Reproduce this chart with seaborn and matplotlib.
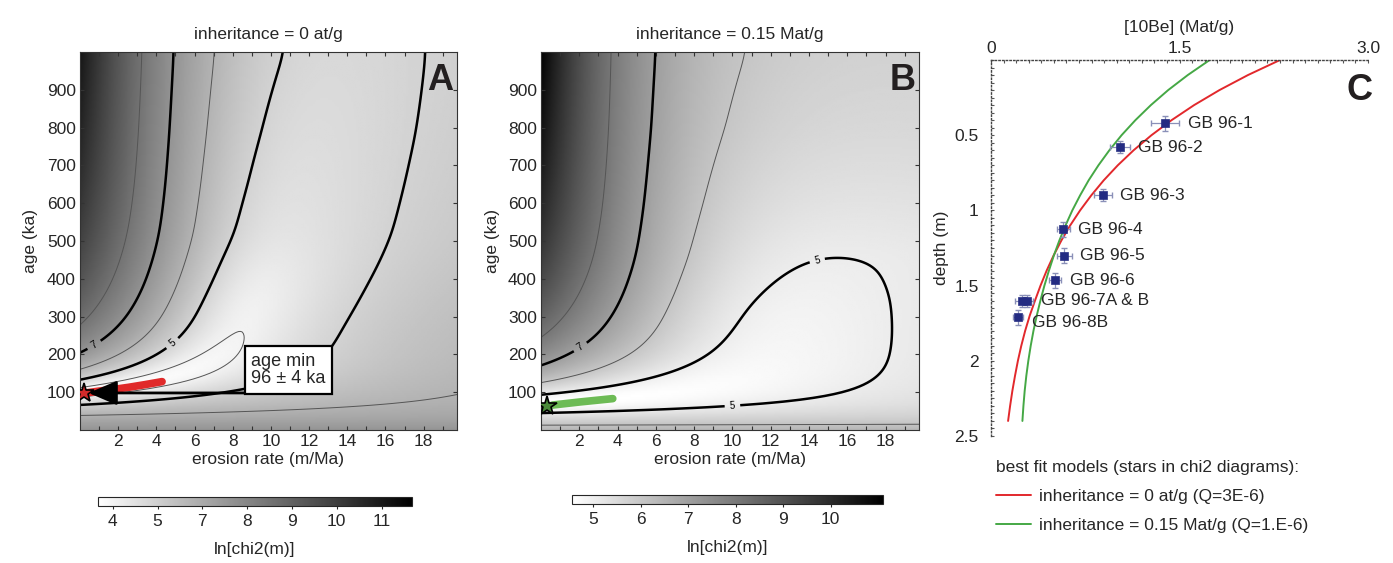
import numpy as np
import pandas as pd
import matplotlib
matplotlib.use('Agg')
import matplotlib.pyplot as plt
import seaborn as sns
from matplotlib.lines import Line2D
from matplotlib.ticker import FixedLocator, MultipleLocator

sns.set_theme(style='ticks')
plt.rcParams['font.family'] = ['Liberation Sans', 'DejaVu Sans']
plt.rcParams['font.size'] = 12.5

# samples of the depth profile (panel C), [10Be] in Mat/g, depth in m
sample_id = ['GB 96-1', 'GB 96-2', 'GB 96-3', 'GB 96-4', 'GB 96-5', 'GB 96-6', 'GB 96-7A', 'GB 96-7B', 'GB 96-8B']
sample_label = ['GB 96-1', 'GB 96-2', 'GB 96-3', 'GB 96-4', 'GB 96-5', 'GB 96-6', '', 'GB 96-7A & B', 'GB 96-8B']
sample_depth = [0.42, 0.58, 0.90, 1.125, 1.30, 1.465, 1.60, 1.60, 1.71]
sample_depth_err = [0.05, 0.04, 0.04, 0.05, 0.05, 0.05, 0.04, 0.04, 0.05]
sample_be10 = [1.385, 1.027, 0.893, 0.575, 0.583, 0.509, 0.244, 0.284, 0.217]
sample_be10_err = [0.113, 0.080, 0.070, 0.053, 0.060, 0.050, 0.050, 0.050, 0.040]

# best fit model profiles drawn in panel C
model_depth = [0.0, 0.1, 0.2, 0.3, 0.4, 0.5, 0.6, 0.7, 0.8, 0.9, 1.0, 1.1, 1.2,
               1.3, 1.4, 1.5, 1.6, 1.7, 1.8, 1.9, 2.0, 2.1, 2.2, 2.3, 2.4]
model_inh0 = [2.300, 2.045, 1.818, 1.616, 1.437, 1.277, 1.135, 1.009, 0.897, 0.798, 0.709, 0.630, 0.560,
              0.498, 0.443, 0.394, 0.350, 0.308, 0.272, 0.241, 0.214, 0.191, 0.170, 0.152, 0.136]
model_inh015 = [1.740, 1.566, 1.410, 1.272, 1.149, 1.039, 0.942, 0.855, 0.777, 0.709, 0.647, 0.593, 0.544,
                0.500, 0.461, 0.425, 0.393, 0.364, 0.338, 0.316, 0.297, 0.281, 0.268, 0.258, 0.250]

# surface 10Be production (Mat/g/Ma), attenuation length (m), decay (1/Ma)
prod_neutron = 23.9
att_neutron = 0.85
decay = 0.462

# chi2 valley: misfit floor and best surface [10Be] per age (ka)
valley_age_a = [0, 100, 160, 230, 260, 340, 430, 520, 650, 785, 1000]
valley_floor_a = [38, 38, 45, 52, 55.5, 58, 71.5, 89, 101, 111, 125]
valley_conc_a = [2.36, 2.36, 2.26, 2.19, 2.16, 2.073, 1.938, 1.798, 1.69, 1.594, 1.465]
valley_age_b = [0, 70, 93, 194, 317, 406, 450, 463, 600, 800, 1000]
valley_floor_b = [86, 86, 96, 114, 126, 140, 146.5, 148, 190, 250, 295]
valley_conc_b = [1.655, 1.655, 1.628, 1.524, 1.445, 1.343, 1.28, 1.262, 1.18, 1.09, 1.04]

# best solutions marked on the chi2 maps
cloud_a_erosion = [0.3, 1.0, 1.85, 2.55, 3.4, 4.3]
cloud_a_age = [98, 103, 108, 113, 120, 128]
cloud_b_erosion = [0.6, 2.0, 3.75]
cloud_b_age = [66, 74, 83]
star_erosion = [0.2, 0.3]
star_age = [97, 63]

cbar_a_labels = ['4', '5', '7', '8', '9', '10', '11']
cbar_b_labels = ['5', '6', '7', '8', '9', '10']

erosion = np.linspace(0, 20, 201)
age = np.linspace(0, 1000, 201)


def along_age(knot_age, knot_val):
    # valley values on the age grid, smoothed between the read points
    v = np.interp(age, knot_age, knot_val)
    kern = np.exp(-0.5 * (np.arange(-18, 19) / 6.0) ** 2)
    kern /= kern.sum()
    return np.convolve(np.pad(v, 18, mode='edge'), kern, mode='valid')


def ln_chi2(knot_age, floor, conc):
    k = decay + erosion[None, :] / att_neutron
    t = age[:, None] / 1000.0
    surf = prod_neutron * (1 - np.exp(-k * t)) / k
    weight = np.sum(np.exp(-2 * np.asarray(sample_depth) / att_neutron) / np.asarray(sample_be10_err) ** 2)
    f = along_age(knot_age, floor)[:, None]
    c = along_age(knot_age, conc)[:, None]
    return np.log(f + weight * (surf - c) ** 2)


def draw_map(ax, cax, field, vmin, vmax, ticks, labels, title, letter, manual):
    im = ax.imshow(field, origin='lower', extent=[erosion[0], erosion[-1], age[0], age[-1]],
                   aspect='auto', cmap='gray_r', vmin=vmin, vmax=vmax, interpolation='bilinear')
    ax.contour(erosion, age, field, levels=[4, 6, 8], colors='#555555', linewidths=0.7)
    cs = ax.contour(erosion, age, field, levels=[5, 7], colors='black', linewidths=1.8)
    ax.clabel(cs, fmt='%d', fontsize=7, manual=manual, inline=True)
    ax.set_xlim(0, 19.75)
    ax.set_ylim(0, 1000)
    ax.xaxis.set_major_locator(FixedLocator(range(2, 20, 2)))
    ax.xaxis.set_minor_locator(FixedLocator(range(1, 20, 2)))
    ax.yaxis.set_major_locator(FixedLocator(range(100, 1000, 100)))
    ax.tick_params(which='both', direction='in', top=True, right=True, length=3, width=0.8,
                   color='#333333', labelsize=12.5, pad=3)
    for sp in ax.spines.values():
        sp.set_linewidth(0.8)
        sp.set_color('#333333')
    ax.set_xlabel('erosion rate (m/Ma)', fontsize=12.5, labelpad=2)
    ax.set_ylabel('age (ka)', fontsize=12.5, labelpad=6)
    ax.set_title(title, fontsize=12.5, pad=9)
    ax.text(0.99, 0.972, letter, transform=ax.transAxes, ha='right', va='top',
            fontsize=26, fontweight='bold', color='#231f20', zorder=8)
    cb = plt.colorbar(im, cax=cax, orientation='horizontal')
    cb.set_ticks(ticks)
    cb.set_ticklabels(labels)
    cb.outline.set_linewidth(0.8)
    cax.tick_params(length=2, width=0.8, labelsize=12.5, pad=4)
    cax.set_xlabel('ln[chi2(m)]', fontsize=12.5, labelpad=9)


fig = plt.figure(figsize=(13.93, 5.63), dpi=100)
ax_a = fig.add_axes([80 / 1393, 1 - 430 / 563, 377 / 1393, 378 / 563])
ax_b = fig.add_axes([541 / 1393, 1 - 430 / 563, 378 / 1393, 378 / 563])
ax_c = fig.add_axes([991 / 1393, 1 - 436 / 563, 377 / 1393, 376 / 563])
cax_a = fig.add_axes([98 / 1393, 1 - 506 / 563, 314 / 1393, 9 / 563])
cax_b = fig.add_axes([572 / 1393, 1 - 504 / 563, 311 / 1393, 9 / 563])

field_a = ln_chi2(valley_age_a, valley_floor_a, valley_conc_a)
field_b = ln_chi2(valley_age_b, valley_floor_b, valley_conc_b)

draw_map(ax_a, cax_a, field_a, 3.6, 11.66, np.linspace(3.98, 10.88, 7), cbar_a_labels,
         'inheritance = 0 at/g', 'A', [(0.9, 212), (4.85, 229)])
draw_map(ax_b, cax_b, field_b, 4.52, 11.04, np.linspace(4.97, 9.94, 6), cbar_b_labels,
         'inheritance = 0.15 Mat/g', 'B', [(2.1, 216), (14.45, 445), (10.0, 66)])

# best solutions, star = best fit model
ax_a.plot(cloud_a_erosion, cloud_a_age, color='#e02a2a', lw=5.5, solid_capstyle='round', zorder=4)
ax_b.plot(cloud_b_erosion, cloud_b_age, color='#6dbb55', lw=5.5, solid_capstyle='round', zorder=4)
ax_a.annotate('', xy=(0.45, 98), xytext=(8.65, 98),
              arrowprops=dict(arrowstyle='-|>,head_length=1.4,head_width=0.6', color='black',
                              lw=2, shrinkA=0, shrinkB=0), zorder=6)
ax_a.text(8.95, 159, 'age min\n96 \u00b1 4 ka', ha='left', va='center', fontsize=13, linespacing=1.05,
          bbox=dict(boxstyle='square,pad=0.35', fc='white', ec='black', lw=1.6), zorder=7)
ax_a.plot(star_erosion[0], star_age[0], marker='*', ms=15, mfc='#d42a2a', mec='black', mew=1.2, zorder=9)
ax_b.plot(star_erosion[1], star_age[1], marker='*', ms=15, mfc='#4b8a3a', mec='black', mew=1.2, zorder=9)

# panel C: depth profile
ax_c.errorbar(sample_be10, sample_depth, xerr=sample_be10_err, yerr=sample_depth_err, fmt='none',
              ecolor='#8a90b8', elinewidth=0.9, capsize=2.5, zorder=3)
sns.scatterplot(x=sample_be10, y=sample_depth, marker='s', s=36, color='#232b82',
                edgecolor='#232b82', ax=ax_c, zorder=4)
sns.lineplot(x=model_inh0, y=model_depth, sort=False, estimator=None, color='#e2282c', lw=1.4, ax=ax_c)
sns.lineplot(x=model_inh015, y=model_depth, sort=False, estimator=None, color='#45a845', lw=1.4, ax=ax_c)
for x, xe, y, lab in zip(sample_be10, sample_be10_err, sample_depth, sample_label):
    if lab:
        dy = -4 if lab.endswith('8B') else 0
        ax_c.annotate(lab, xy=(x + xe, y), xytext=(6, dy), textcoords='offset points',
                      ha='left', va='center', fontsize=12.5)
ax_c.set_xlim(0, 3.0)
ax_c.set_ylim(2.5, 0)
ax_c.xaxis.tick_top()
ax_c.xaxis.set_label_position('top')
ax_c.xaxis.set_major_locator(FixedLocator([0, 1.5, 3.0]))
ax_c.set_xticklabels(['0', '1.5', '3.0'])
ax_c.xaxis.set_minor_locator(MultipleLocator(0.1))
ax_c.yaxis.set_major_locator(FixedLocator([0.5, 1.0, 1.5, 2.0, 2.5]))
ax_c.set_yticklabels(['0.5', '1', '1.5', '2', '2.5'])
ax_c.yaxis.set_minor_locator(MultipleLocator(0.05))
ax_c.tick_params(which='both', direction='in', length=2, width=0.8, color='#555555', labelsize=12.5)
ax_c.tick_params(axis='y', pad=9)
ax_c.tick_params(axis='x', pad=3)
for side in ['right', 'bottom']:
    ax_c.spines[side].set_visible(False)
for side in ['left', 'top']:
    ax_c.spines[side].set_linestyle(':')
    ax_c.spines[side].set_color('#444444')
    ax_c.spines[side].set_linewidth(1.0)
ax_c.set_xlabel('[10Be] (Mat/g)', fontsize=12.5, labelpad=6)
ax_c.set_ylabel('depth (m)', fontsize=12.5, labelpad=4)
ax_c.text(1.013, 0.965, 'C', transform=ax_c.transAxes, ha='right', va='top',
          fontsize=26, fontweight='bold', color='#231f20')
handles = [Line2D([], [], color='#e2282c', lw=1.4), Line2D([], [], color='#45a845', lw=1.4)]
ax_c.legend(handles, ['inheritance = 0 at/g (Q=3E-6)', 'inheritance = 0.15 Mat/g (Q=1.E-6)'],
            title='best fit models (stars in chi2 diagrams):', loc='upper left',
            bbox_to_anchor=(996 / 1393, 1 - 460 / 563), bbox_transform=fig.transFigure,
            frameon=False, alignment='left', fontsize=12.5, title_fontsize=12.5,
            handlelength=2.0, handletextpad=0.45, labelspacing=0.8, borderpad=0, borderaxespad=0)

fig.savefig('out.png', dpi=100)
